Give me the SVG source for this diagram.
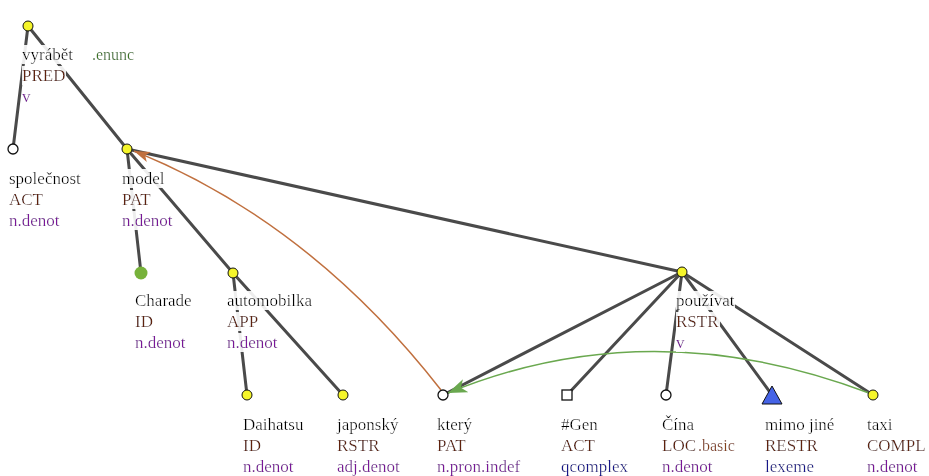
<svg xmlns="http://www.w3.org/2000/svg" width="929" height="476" viewBox="0 0 929 476">
  <defs>
    <style>
      text { font-family: "Liberation Serif", "Times New Roman", serif; font-size: 17px; filter: url(#labelbg); }
      .lemma { fill: #000; }
      .func { fill: #5e2410; }
      .sem { fill: #7a1898; }
      .semb { fill: #18188a; }
      .gram { fill: #3a7420; font-size: 16px; }
      .sub { fill: #84421f; font-size: 16px; }
      .edge { stroke: #4a4a4a; stroke-width: 3; stroke-linecap: round; fill: none; }
      .coref-text { stroke: #c0703f; stroke-width: 1.5; fill: none; }
      .coref-gram { stroke: #6aa84f; stroke-width: 1.5; fill: none; }
      .yellow { fill: #f5f52a; stroke: #111; stroke-width: 1; }
      .empty { fill: #fff; stroke: #111; stroke-width: 1.3; }
    </style>
    <filter id="labelbg" x="0" y="0" width="1" height="1">
      <feFlood flood-color="#ffffff" flood-opacity="0.9"/>
      <feMerge>
        <feMergeNode/>
        <feMergeNode in="SourceGraphic"/>
      </feMerge>
    </filter>
    <marker id="arrow-brown" markerUnits="userSpaceOnUse" markerWidth="18" markerHeight="12" refX="16" refY="6" orient="auto">
      <path d="M0,0.5 L16,6 L0,11.5 L4,6 Z" fill="#c0703f"/>
    </marker>
    <marker id="arrow-green" markerUnits="userSpaceOnUse" markerWidth="20" markerHeight="14" refX="19" refY="7" orient="auto">
      <path d="M0,0 L19,7 L0,14 L5,7 Z" fill="#6aa84f"/>
    </marker>
  </defs>

  <rect width="929" height="476" fill="#fff"/>

  <!-- tree edges and coreference arrows -->
  <g id="connectors">
    <line class="edge" x1="28" y1="26" x2="13" y2="149"/>
    <line class="edge" x1="28" y1="26" x2="127" y2="149"/>
    <line class="edge" x1="127" y1="149" x2="141" y2="273"/>
    <line class="edge" x1="127" y1="149" x2="233" y2="273"/>
    <line class="edge" x1="127" y1="149" x2="682" y2="272"/>
    <line class="edge" x1="233" y1="273" x2="247" y2="395"/>
    <line class="edge" x1="233" y1="273" x2="343" y2="395"/>
    <line class="edge" x1="682" y1="272" x2="443" y2="395"/>
    <line class="edge" x1="682" y1="272" x2="567" y2="395"/>
    <line class="edge" x1="682" y1="272" x2="666" y2="395"/>
    <line class="edge" x1="682" y1="272" x2="772" y2="395"/>
    <line class="edge" x1="682" y1="272" x2="873" y2="395"/>
    <path class="coref-text" d="M441,390 Q310,222 134,151" marker-end="url(#arrow-brown)"/>
    <path class="coref-gram" d="M869,393 Q650,310 448,393" marker-end="url(#arrow-green)"/>
  </g>

  <g id="n-vyrabet">
    <circle class="yellow" cx="28" cy="26" r="5"/>
    <text class="lemma" x="22" y="60">vyrábět</text>
    <text class="gram" x="92" y="60">.enunc</text>
    <text class="func" x="22" y="81">PRED</text>
    <text class="sem" x="22" y="102">v</text>
  </g>

  <g id="n-spolecnost">
    <circle class="empty" cx="13" cy="149" r="5"/>
    <text class="lemma" x="9" y="184">společnost</text>
    <text class="func" x="9" y="205">ACT</text>
    <text class="sem" x="9" y="226">n.denot</text>
  </g>

  <g id="n-model">
    <circle class="yellow" cx="127" cy="149" r="5"/>
    <text class="lemma" x="122" y="184">model</text>
    <text class="func" x="122" y="205">PAT</text>
    <text class="sem" x="122" y="226">n.denot</text>
  </g>

  <g id="n-charade">
    <circle cx="141" cy="273" r="6.5" fill="#77b23a"/>
    <text class="lemma" x="135" y="306">Charade</text>
    <text class="func" x="135" y="327">ID</text>
    <text class="sem" x="135" y="348">n.denot</text>
  </g>

  <g id="n-automobilka">
    <circle class="yellow" cx="233" cy="273" r="5"/>
    <text class="lemma" x="227" y="306">automobilka</text>
    <text class="func" x="227" y="327">APP</text>
    <text class="sem" x="227" y="348">n.denot</text>
  </g>

  <g id="n-pouzivat">
    <circle class="yellow" cx="682" cy="272" r="5"/>
    <text class="lemma" x="676" y="306">používat</text>
    <text class="func" x="676" y="327">RSTR</text>
    <text class="sem" x="676" y="348">v</text>
  </g>

  <g id="n-daihatsu">
    <circle class="yellow" cx="247" cy="395" r="5"/>
    <text class="lemma" x="243" y="430">Daihatsu</text>
    <text class="func" x="243" y="451">ID</text>
    <text class="sem" x="243" y="472">n.denot</text>
  </g>

  <g id="n-japonsky">
    <circle class="yellow" cx="343" cy="395" r="5"/>
    <text class="lemma" x="337" y="430">japonský</text>
    <text class="func" x="337" y="451">RSTR</text>
    <text class="sem" x="337" y="472">adj.denot</text>
  </g>

  <g id="n-ktery">
    <circle class="empty" cx="443" cy="395" r="5"/>
    <text class="lemma" x="437" y="430">který</text>
    <text class="func" x="437" y="451">PAT</text>
    <text class="sem" x="437" y="472">n.pron.indef</text>
  </g>

  <g id="n-gen">
    <rect class="empty" x="562" y="390" width="10" height="10"/>
    <text class="lemma" x="561" y="430">#Gen</text>
    <text class="func" x="561" y="451">ACT</text>
    <text class="semb" x="561" y="472">qcomplex</text>
  </g>

  <g id="n-cina">
    <circle class="empty" cx="666" cy="395" r="5"/>
    <text class="lemma" x="662" y="430">Čína</text>
    <text class="func" x="662" y="451">LOC</text>
    <text class="sub" x="698" y="451">.basic</text>
    <text class="sem" x="662" y="472">n.denot</text>
  </g>

  <g id="n-mimo-jine">
    <polygon points="772,386 762,404 782,404" fill="#4563e6" stroke="#111" stroke-width="1"/>
    <text class="lemma" x="765" y="430">mimo jiné</text>
    <text class="func" x="765" y="451">RESTR</text>
    <text class="semb" x="765" y="472">lexeme</text>
  </g>

  <g id="n-taxi">
    <circle class="yellow" cx="873" cy="395" r="5"/>
    <text class="lemma" x="867" y="430">taxi</text>
    <text class="func" x="867" y="451">COMPL</text>
    <text class="sem" x="867" y="472">n.denot</text>
  </g>
</svg>
